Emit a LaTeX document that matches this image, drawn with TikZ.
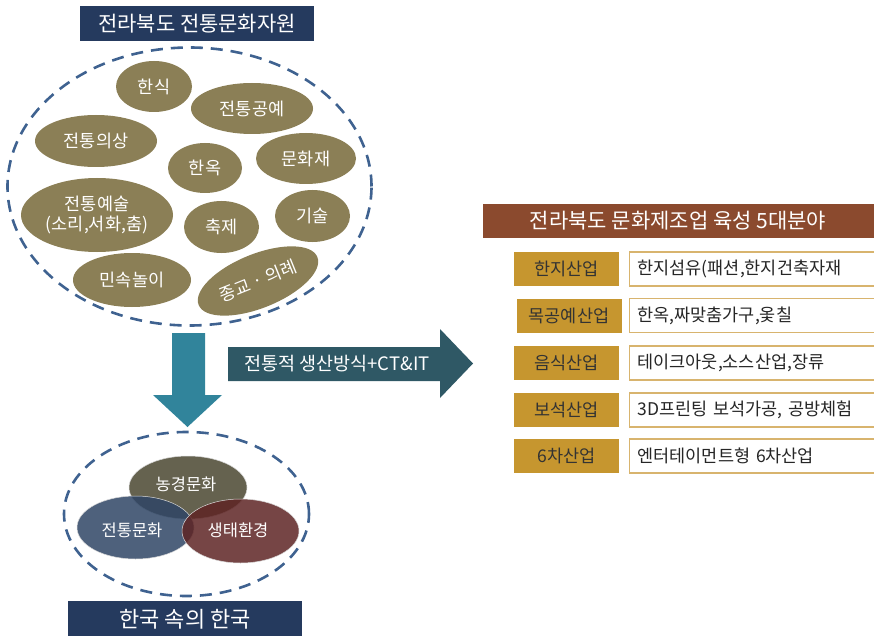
\documentclass[tikz,border=0pt]{standalone}
\usepackage{fontspec}
\setmainfont{Noto Sans CJK KR}
\usetikzlibrary{shapes.geometric}
\definecolor{navyc}{HTML}{253A5E}
\definecolor{olivec}{HTML}{8B7F56}
\definecolor{dashc}{HTML}{3F6290}
\definecolor{tealc}{HTML}{31849B}
\definecolor{slatec}{HTML}{2F5865}
\definecolor{brownc}{HTML}{8B4A2E}
\definecolor{goldc}{HTML}{C6962F}
\definecolor{goldline}{HTML}{D8B46E}
\definecolor{agric}{HTML}{4A4630}
\definecolor{tradc}{HTML}{2F4565}
\definecolor{ecoc}{HTML}{5E2424}
\tikzset{
  titlebar/.style={fill=navyc, text=white, font=\fontsize{21}{24}\selectfont, inner sep=0pt},
  res/.style={ellipse, fill=olivec, text=white, inner sep=0pt, font=\fontsize{17.5}{20}\selectfont, align=center},
  pool/.style={ellipse, draw=dashc, line width=2.6pt, dash pattern=on 12pt off 8pt, inner sep=0pt},
  lab/.style={fill=goldc, text=black!80, minimum width=105pt, minimum height=34pt, inner sep=0pt, font=\fontsize{17.5}{20}\selectfont},
  cont/.style={draw=goldline, line width=1.2pt, fill=white, text=black!85, minimum width=245pt, minimum height=34pt, inner sep=0pt, font=\fontsize{17.5}{20}\selectfont},
  venn/.style={ellipse, fill opacity=0.85, text opacity=1, text=white, inner sep=0pt, draw=white!85!black, line width=0.5pt},
  venntext/.style={text=white, font=\fontsize{16.5}{19}\selectfont, inner sep=0pt},
}
\begin{document}
\begin{tikzpicture}[x=1pt,y=-1pt]
\useasboundingbox (0,0) rectangle (874,636);
% top title
\node[titlebar, minimum width=234pt, minimum height=35pt] (t1) at (197,23.5) {전라북도 전통문화자원};
% big pool
\node[pool, minimum width=364pt, minimum height=278pt] (bigpool) at (189.5,186.5) {};
\node[res, minimum width=76pt, minimum height=51pt] (hansik) at (154,86.5) {한식};
\node[res, minimum width=122pt, minimum height=51pt] (gongye) at (252,108.5) {전통공예};
\node[res, minimum width=122pt, minimum height=52pt] (uisang) at (96,141) {전통의상};
\node[res, minimum width=74pt, minimum height=50pt] (hanok) at (205,168) {한옥};
\node[res, minimum width=100pt, minimum height=51pt] (munhwajae) at (306,158.5) {문화재};
\node[res, minimum width=152pt, minimum height=74pt] (yesul) at (97,215) {전통예술\\(소리,서화,춤)};
\node[res, minimum width=75pt, minimum height=52pt] (chukje) at (221.5,227) {축제};
\node[res, minimum width=75pt, minimum height=52pt] (gisul) at (312.5,216) {기술};
\node[res, minimum width=118pt, minimum height=54pt] (nori) at (132,280) {민속놀이};
\node[res, minimum width=128pt, minimum height=54pt, rotate=22] (jonggyo) at (258,281) {종교 · 의례};
% down arrow
\fill[tealc] (172,333) -- (205,333) -- (205,395) -- (222,395) -- (187.5,427) -- (153,395) -- (172,395) -- cycle;
% right arrow
\fill[slatec] (228,347) -- (440,347) -- (440,329) -- (473,363.5) -- (440,398) -- (440,381) -- (228,381) -- cycle;
\node[text=white, font=\fontsize{18.5}{21}\selectfont, inner sep=0pt] (method) at (337,364) {전통적 생산방식+CT\&IT};
% right section
\node[fill=brownc, text=white, font=\fontsize{21}{24}\selectfont, minimum width=391pt, minimum height=34pt, inner sep=0pt] (t2) at (678,221) {전라북도 문화제조업 육성 5대분야};
\node[lab] (l1) at (566.5,269) {한지산업};
\node[cont, text width=229pt, align=left] (c1) at (752,269) {한지섬유(패션,한지건축자재};
\node[lab] (l2) at (569,315.5) {목공예산업};
\node[cont, text width=229pt, align=left] (c2) at (752,315.5) {한옥,짜맞춤가구,옻칠};
\node[lab] (l3) at (566.5,363) {음식산업};
\node[cont, text width=229pt, align=left] (c3) at (752,363) {테이크아웃,소스산업,장류};
\node[lab] (l4) at (566.5,410) {보석산업};
\node[cont, text width=229pt, align=left] (c4) at (752,410) {3D프린팅 보석가공, 공방체험};
\node[lab] (l5) at (566.5,456) {6차산업};
\node[cont, text width=229pt, align=left] (c5) at (752,456) {엔터테이먼트형 6차산업};
% bottom
\node[pool, minimum width=245pt, minimum height=164pt] (smallpool) at (186.5,514) {};
\node[venn, fill=agric, minimum width=118pt, minimum height=63pt] (agri) at (188,487.5) {};
\node[venn, fill=tradc, minimum width=117pt, minimum height=63pt] (trad) at (135.5,527.5) {};
\node[venn, fill=ecoc, minimum width=117pt, minimum height=64pt] (eco) at (240.5,531) {};
\node[venntext] (agrit) at (186,484) {농경문화};
\node[venntext] (tradt) at (132,530) {전통문화};
\node[venntext] (ecot) at (238,530) {생태환경};
\node[titlebar, font=\fontsize{22}{25}\selectfont, minimum width=234pt, minimum height=36pt] (t3) at (185,619) {한국 속의 한국};
\end{tikzpicture}
\end{document}
